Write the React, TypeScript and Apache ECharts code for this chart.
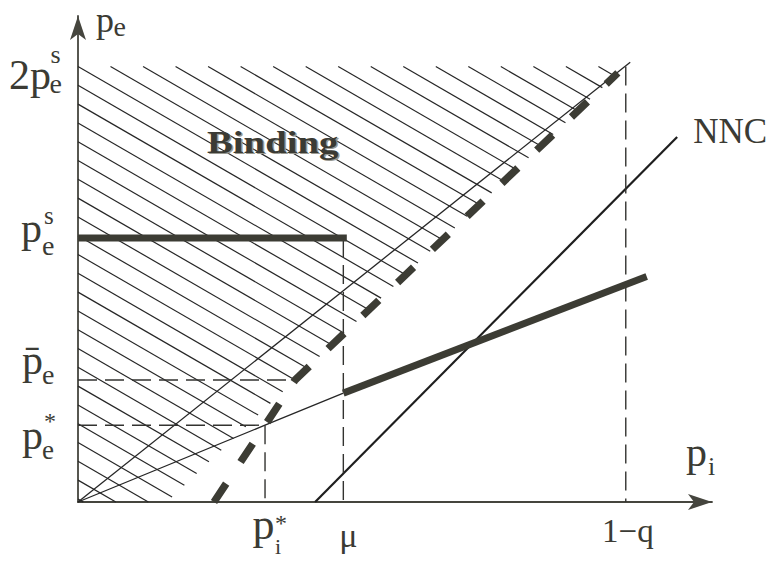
import React, { useEffect, useRef } from 'react';
import * as echarts from 'echarts';

// ---- data (axis units: 0..100 on both axes) ----
const xTickValues = [29.5, 41.85, 86.4]; // p_i*, μ, 1−q
const yTickValues = [15.8, 25.1, 54.3, 89.6]; // p_e*, p̄_e, p_e^s, 2p_e^s
const diagonalLine = [[0, 0], [87.1, 90.5]];
const nncLine = [[37.4, 0], [94.5, 75.1]];
const thinBranch = [[0, 0], [29.5, 15.8], [41.85, 22.4]];
const thickBranch = [[41.85, 22.4], [89.7, 46.4]];
const flatBranch = [[0, 54.3], [42.4, 54.3]];
const bindingFrontier = [[21.45, 0], [34.24, 25.1], [85.15, 88.3]];
const hatchEdge = [[14.0, 0], [86.2, 89.6]];

const [piStar, mu, oneMinusQ] = xTickValues;
const [peStar, peBar, peS, pe2S] = yTickValues;

const guides = [
  [[piStar, peStar], [piStar, 0]],
  [[mu, peS], [mu, 0]],
  [[oneMinusQ, pe2S], [oneMinusQ, 0]],
  [[0, peStar], [piStar, peStar]],
  [[0, peBar], [bindingFrontier[1][0], peBar]],
];

const hatchPolygon = [[0, pe2S], [hatchEdge[1][0], pe2S], [hatchEdge[0][0], 0], [0, 0]];

const TEXT = '#3b3b34';
const THICK = '#3c3c34';
const THIN = '#262626';
const AXIS = '#45453e';
const SERIF = '"Liberation Serif", "Times New Roman", serif';
const HATCH_SLOPE = 0.578;
const HATCH_STEP = 18.8;

function lineSeries(data: number[][], width: number, color: string, type: any, z: number) {
  return {
    type: 'line',
    data,
    symbol: 'none',
    showSymbol: false,
    silent: true,
    clip: false,
    z,
    lineStyle: { color, width, type, cap: 'butt', join: 'miter' },
  };
}

function hatchRender(_params: any, api: any) {
  const poly = hatchPolygon.map((p) => api.coord(p));
  const m = HATCH_SLOPE;
  const c0 = poly[0][1] - m * poly[0][0];
  const cs = poly.map((p: number[]) => p[1] - m * p[0]);
  const cmin = Math.min(...cs);
  const cmax = Math.max(...cs);
  const children: any[] = [];
  const n = poly.length;
  for (let k = Math.ceil((cmin - c0) / HATCH_STEP); c0 + k * HATCH_STEP <= cmax; k++) {
    const c = c0 + k * HATCH_STEP;
    const ts: number[] = [];
    for (let i = 0; i < n; i++) {
      const A = poly[i];
      const B = poly[(i + 1) % n];
      const ex = B[0] - A[0];
      const ey = B[1] - A[1];
      const den = ey - m * ex;
      if (Math.abs(den) < 1e-9) continue;
      const s = (c + m * A[0] - A[1]) / den;
      if (s >= -1e-9 && s <= 1 + 1e-9) ts.push(A[0] + s * ex);
    }
    if (ts.length >= 2) {
      const t1 = Math.min(...ts);
      const t2 = Math.max(...ts);
      if (t2 - t1 > 0.5) {
        children.push({
          type: 'line',
          shape: { x1: t1, y1: c + m * t1, x2: t2, y2: c + m * t2 },
          style: { stroke: THIN, lineWidth: 1.2 },
        });
      }
    }
  }
  return { type: 'group', children };
}

function txt(text: string, x: number, baseline: number, size: number, opts: any = {}) {
  const weight = opts.weight || 'normal';
  const family = opts.family || SERIF;
  return {
    type: 'text',
    x,
    y: baseline - 0.3375 * size,
    z: 100,
    scaleX: opts.scaleX || 1,
    silent: true,
    style: {
      text,
      fill: opts.fill || TEXT,
      font: `${weight} ${size}px ${family}`,
      textAlign: 'left',
      textVerticalAlign: 'middle',
      align: 'left',
      verticalAlign: 'middle',
    },
  };
}

export default function App() {
  const ref = useRef<HTMLDivElement>(null);
  useEffect(() => {
    const chart = echarts.init(ref.current!, null, { renderer: 'svg' });
    const axisCommon = {
      type: 'value',
      min: 0,
      max: 100,
      axisLine: {
        show: true,
        onZero: false,
        symbol: ['none', 'arrow'],
        symbolSize: [12, 24],
        lineStyle: { color: AXIS, width: 1.8 },
      },
      axisTick: { show: false },
      axisLabel: { show: false },
      splitLine: { show: false },
    };
    chart.setOption({
      animation: false,
      backgroundColor: '#ffffff',
      grid: { left: 78, top: 16, right: 56, bottom: 60 },
      xAxis: { ...axisCommon },
      yAxis: { ...axisCommon },
      series: [
        {
          type: 'custom',
          renderItem: hatchRender,
          data: [[0, 0]],
          silent: true,
          clip: false,
          z: 1,
        },
        lineSeries(diagonalLine, 1.3, THIN, 'solid', 2),
        lineSeries(thinBranch, 1.3, THIN, 'solid', 2),
        lineSeries(nncLine, 2.2, '#1e1e1e', 'solid', 2),
        ...guides.map((g) => lineSeries(g, 1.4, '#333330', [19, 8], 2)),
        lineSeries(thickBranch, 7, THICK, 'solid', 3),
        lineSeries(flatBranch, 7, THICK, 'solid', 3),
        lineSeries(bindingFrontier, 7.5, THICK, [22, 26], 3),
      ],
    });

    const px = (p: number[]) => chart.convertToPixel({ gridIndex: 0 }, p) as number[];
    const els: any[] = [];
    // y-axis tick labels
    const yA = (v: number) => px([0, v]);
    {
      const [ax, ay] = yA(pe2S);
      els.push(txt('2p', ax - 69, ay + 22.3, 42));
      els.push(txt('e', ax - 28.5, ay + 26, 28));
      els.push(txt('s', ax - 27.5, ay - 3, 26));
    }
    {
      const [ax, ay] = yA(peS);
      els.push(txt('p', ax - 57, ay + 4.5, 42));
      els.push(txt('e', ax - 36, ay + 16.5, 28));
      els.push(txt('s', ax - 34, ay - 14, 25));
    }
    {
      const [ax, ay] = yA(peBar);
      els.push(txt('p\u0304', ax - 56, ay - 6, 42));
      els.push(txt('e', ax - 36, ay + 3.5, 28));
    }
    {
      const [ax, ay] = yA(peStar);
      els.push(txt('p', ax - 56, ay + 24, 42));
      els.push(txt('e', ax - 36, ay + 33.5, 27));
      els.push(txt('*', ax - 34, ay + 4, 24));
    }
    // x-axis tick labels
    const xA = (v: number) => px([v, 0]);
    {
      const [ax, ay] = xA(piStar);
      els.push(txt('p', ax - 12.5, ay + 37, 44));
      els.push(txt('i', ax + 10, ay + 51.5, 22));
      els.push(txt('*', ax + 10, ay + 29, 24));
    }
    {
      const [ax, ay] = xA(mu);
      els.push(txt('μ', ax - 4, ay + 45, 34));
    }
    {
      const [ax, ay] = xA(oneMinusQ);
      els.push(txt('1\u2212q', ax - 23.7, ay + 39.7, 33));
    }
    // axis names
    {
      const [ax, ay] = px([0, 100]);
      els.push(txt('p', ax + 18, ay + 16.5, 36));
      els.push(txt('e', ax + 35.5, ay + 19.5, 28));
    }
    {
      const [ax, ay] = px([100, 0]);
      els.push(txt('p', ax - 26, ay - 36, 42));
      els.push(txt('i', ax - 4, ay - 27, 26));
    }
    // NNC label
    {
      const [ax, ay] = px(nncLine[1]);
      els.push(txt('NNC', ax + 16, ay + 6, 35));
    }
    // Binding label
    {
      const [ax, ay] = px([0, pe2S]);
      els.push(txt('Binding', ax + 130.5, ay + 87.6, 31, { weight: 'bold', scaleX: 1.25, fill: '#9a9a92' }));
      els.push(txt('Binding', ax + 129, ay + 86.6, 31, { weight: 'bold', scaleX: 1.25 }));
    }
    chart.setOption({ graphic: { elements: els } });
    return () => chart.dispose();
  }, []);
  return (
    <div
      ref={ref}
      style={{ position: 'fixed', left: 0, top: 0, width: 768, height: 562, background: '#ffffff' }}
    />
  );
}
